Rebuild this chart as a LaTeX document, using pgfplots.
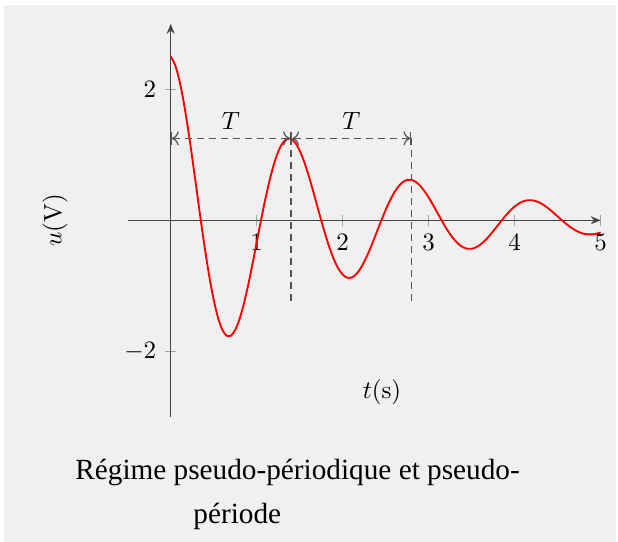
\documentclass[border=0pt]{standalone}
\usepackage{pgfplots}
\pgfplotsset{compat=1.18}
\usepackage{fontspec}
\newfontfamily\capfont{Liberation Serif}
\usetikzlibrary{arrows.meta}
\definecolor{bg}{RGB}{240,240,240}
\definecolor{axisgray}{RGB}{70,70,70}
\definecolor{dashgray}{RGB}{85,85,85}

% u(t) = 2.5 exp(-t/2) cos(2 pi t / 1.4), sampled every 0.05 s
\pgfplotstableread{
t u
0.00 2.5000
0.05 2.3772
0.10 2.1426
0.15 1.8134
0.20 1.4104
0.25 0.9573
0.30 0.4788
0.35 0.0000
0.40 -0.4555
0.45 -0.8662
0.50 -1.2139
0.55 -1.4846
0.60 -1.6687
0.65 -1.7610
0.70 -1.7617
0.75 -1.6751
0.80 -1.5098
0.85 -1.2778
0.90 -0.9939
0.95 -0.6745
1.00 -0.3374
1.05 0.0000
1.10 0.3210
1.15 0.6104
1.20 0.8554
1.25 1.0462
1.30 1.1759
1.35 1.2410
1.40 1.2415
1.45 1.1804
1.50 1.0640
1.55 0.9005
1.60 0.7004
1.65 0.4754
1.70 0.2378
1.75 0.0000
1.80 -0.2262
1.85 -0.4301
1.90 -0.6028
1.95 -0.7373
2.00 -0.8286
2.05 -0.8745
2.10 -0.8749
2.15 -0.8319
2.20 -0.7498
2.25 -0.6345
2.30 -0.4936
2.35 -0.3350
2.40 -0.1676
2.45 0.0000
2.50 0.1594
2.55 0.3031
2.60 0.4248
2.65 0.5195
2.70 0.5839
2.75 0.6163
2.80 0.6165
2.85 0.5862
2.90 0.5283
2.95 0.4472
3.00 0.3478
3.05 0.2361
3.10 0.1181
3.15 0.0000
3.20 -0.1123
3.25 -0.2136
3.30 -0.2993
3.35 -0.3661
3.40 -0.4115
3.45 -0.4342
3.50 -0.4344
3.55 -0.4131
3.60 -0.3724
3.65 -0.3152
3.70 -0.2451
3.75 -0.1663
3.80 -0.0832
3.85 0.0000
3.90 0.0792
3.95 0.1505
4.00 0.2110
4.05 0.2580
4.10 0.2899
4.15 0.3060
4.20 0.3062
4.25 0.2911
4.30 0.2624
4.35 0.2220
4.40 0.1727
4.45 0.1172
4.50 0.0586
4.55 0.0000
4.60 -0.0558
4.65 -0.1061
4.70 -0.1486
4.75 -0.1818
4.80 -0.2043
4.85 -0.2157
4.90 -0.2157
4.95 -0.2051
5.00 -0.1849
}\signal

\begin{document}
\begin{tikzpicture}
% page background with a thin white margin
\fill[white] (-68.28pt,-128.68pt) rectangle (178.92pt,88.12pt);
\fill[bg] (-66.68pt,-128.68pt) rectangle (178.12pt,86.12pt);
\useasboundingbox (-68.28pt,-128.68pt) rectangle (178.92pt,88.12pt);
\begin{axis}[
  anchor=origin, at={(0pt,0pt)},
  x=34.4pt, y=26.2pt,
  xmin=-0.5, xmax=5, ymin=-3, ymax=3,
  axis lines=middle,
  axis line style={axisgray, line width=0.5pt, -{Stealth[length=4pt,width=3.2pt]}},
  xtick={1,2,3,4,5}, ytick={-2,2},
  tick align=center, major tick length=4.5pt,
  tick style={black!35, line width=0.5pt},
  clip=false,
]
\addplot[red, line width=0.75pt, smooth] table[x=t, y=u] {\signal};
% pseudo-period markers
\draw[dashgray, line width=0.5pt, dash pattern=on 2.8pt off 2pt, |<->|] (axis cs:0,1.25) -- (axis cs:1.4,1.25);
\draw[dashgray, line width=0.5pt, dash pattern=on 2.8pt off 2pt, |<->|] (axis cs:1.4,1.25) -- (axis cs:2.8,1.25);
\draw[dashgray, line width=0.5pt, dash pattern=on 2.8pt off 2pt] (axis cs:1.4,1.25) -- (axis cs:1.4,-1.26);
\draw[dashgray, line width=0.5pt, dash pattern=on 2.8pt off 2pt] (axis cs:2.8,1.25) -- (axis cs:2.8,-1.26);
\node at (axis cs:0.7,1.52) {$T$};
\node at (axis cs:2.1,1.52) {$T$};
\node at (axis cs:2.457,-2.62) {$t$(s)};
\node[rotate=90] at (axis cs:-1.345,0) {$u$(V)};
\end{axis}
\node[anchor=base west, inner sep=0pt, font=\capfont\fontsize{11.7}{14}\selectfont] at (-38.3pt,-103.5pt) {Régime pseudo-périodique et pseudo-};
\node[anchor=base west, inner sep=0pt, font=\capfont\fontsize{11.7}{14}\selectfont] at (8.9pt,-121.1pt) {période};
\end{tikzpicture}
\end{document}
